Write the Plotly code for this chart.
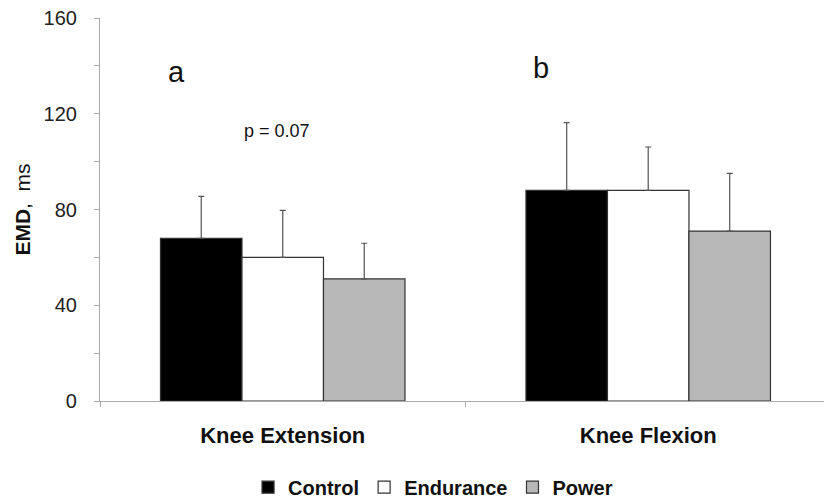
import plotly.graph_objects as go

categories = ["Knee Extension", "Knee Flexion"]
groups = ["Control", "Endurance", "Power"]
control = [68, 88]
endurance = [60, 88]
power = [51, 71]
control_sd = [17.5, 28.3]
endurance_sd = [19.6, 18.1]
power_sd = [14.9, 24.1]
y_ticks = [0, 40, 80, 120, 160]

colors = ["#000000", "#ffffff", "#b8b8b8"]
values = [control, endurance, power]
sds = [control_sd, endurance_sd, power_sd]

fig = go.Figure()
for name, vals, sd, col in zip(groups, values, sds, colors):
    fig.add_trace(go.Bar(
        x=categories, y=vals, name=name,
        marker=dict(color=col, line=dict(color="#333333", width=1.2)),
        error_y=dict(type="data", array=sd, symmetric=False, arrayminus=[0]*len(sd),
                     color="#555555", thickness=1.2, width=3, visible=True),
    ))

font_family = "Liberation Sans, Arial, sans-serif"
fig.update_layout(
    width=824, height=504,
    margin=dict(l=100, r=0, t=18, b=103, autoexpand=False),
    paper_bgcolor="white", plot_bgcolor="white",
    barmode="group", bargap=0.331, bargroupgap=0,
    font=dict(family=font_family, color="#222222"),
    showlegend=True,
    legend=dict(orientation="h", x=0.46, xanchor="center", y=-0.225, yanchor="middle",
                font=dict(size=20, color="#111111", family=font_family, weight="bold"),
                itemwidth=30, tracegroupgap=0, traceorder="normal"),
    xaxis=dict(
        range=[-0.5, 1.481], showline=True, linecolor="#aaaaaa", linewidth=1.2,
        ticks="outside", tickson="boundaries", ticklen=5, tickcolor="#aaaaaa",
        tickfont=dict(size=22, color="#111111", family=font_family),
        ticklabelstandoff=14, showgrid=False, zeroline=False, automargin=False,
        ticktext=["<b>Knee Extension</b>", "<b>Knee Flexion</b>"],
        tickvals=categories,
    ),
    yaxis=dict(
        range=[0, 160], tickvals=y_ticks, showline=True, linecolor="#aaaaaa", linewidth=1.2,
        ticks="outside", ticklen=5, tickcolor="#aaaaaa",
        minor=dict(dtick=20, ticks="outside", ticklen=5, tickcolor="#aaaaaa"),
        tickfont=dict(size=20, color="#222222", family=font_family),
        ticklabelstandoff=13, automargin=False,
        showgrid=False, zeroline=False,
        title=dict(text="<b>EMD</b>,  ms",
                   font=dict(size=21, color="#111111", family=font_family), standoff=7),
    ),
)

fig.add_annotation(x=-0.292, y=137.5, text="a", showarrow=False,
                   font=dict(size=29, color="#111111", family=font_family), xref="x", yref="y")
fig.add_annotation(x=0.708, y=139, text="b", showarrow=False,
                   font=dict(size=29, color="#111111", family=font_family), xref="x", yref="y")
fig.add_annotation(x=-0.016, y=113, text="p = 0.07", showarrow=False,
                   font=dict(size=18, color="#111111", family=font_family), xref="x", yref="y")

fig.write_html("out.html")
